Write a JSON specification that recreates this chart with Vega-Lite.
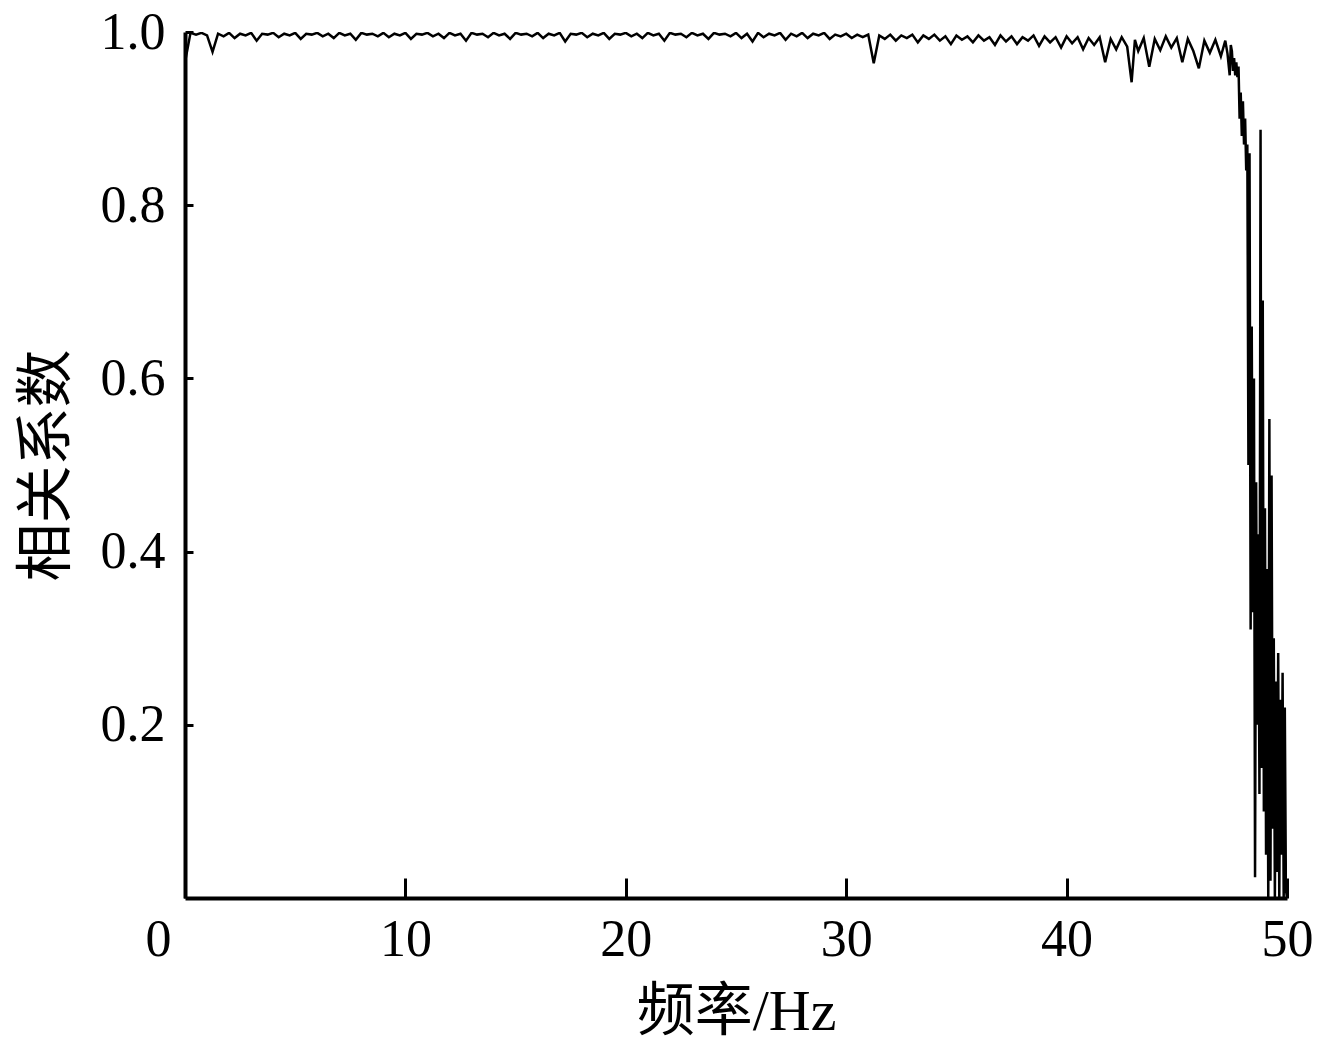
{
  "$schema": "https://vega.github.io/schema/vega-lite/v6.json",
  "width": 1102,
  "height": 866,
  "autosize": "none",
  "padding": {"left": 185, "top": 32, "right": 37, "bottom": 150},
  "background": "white",
  "config": {
    "view": {"stroke": null},
    "font": "Liberation Serif",
    "axis": {
      "domainColor": "black",
      "domainWidth": 4,
      "tickColor": "black",
      "tickWidth": 3,
      "grid": false,
      "labelColor": "black",
      "titleColor": "black",
      "labelFont": "Liberation Serif",
      "labelFontSize": 52,
      "titleFont": "Liberation Serif, Noto Sans CJK SC",
      "titleFontSize": 58,
      "titleFontWeight": "normal"
    }
  },
  "data": {
    "values": [
      {"f": 0, "r": 0.965}, {"f": 0.25, "r": 0.999}, {"f": 0.5, "r": 0.997}, {"f": 0.75, "r": 0.999}, {"f": 1.0, "r": 0.996},
      {"f": 1.25, "r": 0.977}, {"f": 1.5, "r": 0.998}, {"f": 1.75, "r": 0.995}, {"f": 2.0, "r": 0.999}, {"f": 2.25, "r": 0.993},
      {"f": 2.5, "r": 0.998}, {"f": 2.75, "r": 0.996}, {"f": 3.0, "r": 0.999}, {"f": 3.25, "r": 0.99}, {"f": 3.5, "r": 0.998},
      {"f": 3.75, "r": 0.997}, {"f": 4.0, "r": 0.999}, {"f": 4.25, "r": 0.994}, {"f": 4.5, "r": 0.998}, {"f": 4.75, "r": 0.996},
      {"f": 5.0, "r": 0.999}, {"f": 5.25, "r": 0.992}, {"f": 5.5, "r": 0.998}, {"f": 5.75, "r": 0.997}, {"f": 6.0, "r": 0.999},
      {"f": 6.25, "r": 0.995}, {"f": 6.5, "r": 0.998}, {"f": 6.75, "r": 0.993}, {"f": 7.0, "r": 0.999}, {"f": 7.25, "r": 0.996},
      {"f": 7.5, "r": 0.998}, {"f": 7.75, "r": 0.991}, {"f": 8.0, "r": 0.999}, {"f": 8.25, "r": 0.997}, {"f": 8.5, "r": 0.998},
      {"f": 8.75, "r": 0.995}, {"f": 9.0, "r": 0.999}, {"f": 9.25, "r": 0.994}, {"f": 9.5, "r": 0.998}, {"f": 9.75, "r": 0.996},
      {"f": 10.0, "r": 0.999}, {"f": 10.25, "r": 0.992}, {"f": 10.5, "r": 0.998}, {"f": 10.75, "r": 0.997}, {"f": 11.0, "r": 0.999},
      {"f": 11.25, "r": 0.995}, {"f": 11.5, "r": 0.998}, {"f": 11.75, "r": 0.993}, {"f": 12.0, "r": 0.999}, {"f": 12.25, "r": 0.996},
      {"f": 12.5, "r": 0.998}, {"f": 12.75, "r": 0.99}, {"f": 13.0, "r": 0.999}, {"f": 13.25, "r": 0.997}, {"f": 13.5, "r": 0.998},
      {"f": 13.75, "r": 0.994}, {"f": 14.0, "r": 0.999}, {"f": 14.25, "r": 0.996}, {"f": 14.5, "r": 0.998}, {"f": 14.75, "r": 0.992},
      {"f": 15.0, "r": 0.999}, {"f": 15.25, "r": 0.997}, {"f": 15.5, "r": 0.998}, {"f": 15.75, "r": 0.995}, {"f": 16.0, "r": 0.999},
      {"f": 16.25, "r": 0.993}, {"f": 16.5, "r": 0.998}, {"f": 16.75, "r": 0.996}, {"f": 17.0, "r": 0.999}, {"f": 17.25, "r": 0.989},
      {"f": 17.5, "r": 0.998}, {"f": 17.75, "r": 0.997}, {"f": 18.0, "r": 0.999}, {"f": 18.25, "r": 0.994}, {"f": 18.5, "r": 0.998},
      {"f": 18.75, "r": 0.996}, {"f": 19.0, "r": 0.999}, {"f": 19.25, "r": 0.992}, {"f": 19.5, "r": 0.998}, {"f": 19.75, "r": 0.997},
      {"f": 20.0, "r": 0.999}, {"f": 20.25, "r": 0.995}, {"f": 20.5, "r": 0.998}, {"f": 20.75, "r": 0.993}, {"f": 21.0, "r": 0.999},
      {"f": 21.25, "r": 0.996}, {"f": 21.5, "r": 0.998}, {"f": 21.75, "r": 0.99}, {"f": 22.0, "r": 0.999}, {"f": 22.25, "r": 0.997},
      {"f": 22.5, "r": 0.998}, {"f": 22.75, "r": 0.994}, {"f": 23.0, "r": 0.999}, {"f": 23.25, "r": 0.996}, {"f": 23.5, "r": 0.998},
      {"f": 23.75, "r": 0.992}, {"f": 24.0, "r": 0.999}, {"f": 24.25, "r": 0.997}, {"f": 24.5, "r": 0.998}, {"f": 24.75, "r": 0.995},
      {"f": 25.0, "r": 0.999}, {"f": 25.25, "r": 0.993}, {"f": 25.5, "r": 0.998}, {"f": 25.75, "r": 0.989}, {"f": 26.0, "r": 0.999},
      {"f": 26.25, "r": 0.994}, {"f": 26.5, "r": 0.998}, {"f": 26.75, "r": 0.996}, {"f": 27.0, "r": 0.999}, {"f": 27.25, "r": 0.991},
      {"f": 27.5, "r": 0.998}, {"f": 27.75, "r": 0.995}, {"f": 28.0, "r": 0.999}, {"f": 28.25, "r": 0.993}, {"f": 28.5, "r": 0.998},
      {"f": 28.75, "r": 0.996}, {"f": 29.0, "r": 0.999}, {"f": 29.25, "r": 0.992}, {"f": 29.5, "r": 0.997}, {"f": 29.75, "r": 0.995},
      {"f": 30.0, "r": 0.998}, {"f": 30.25, "r": 0.993}, {"f": 30.5, "r": 0.997}, {"f": 30.75, "r": 0.994}, {"f": 31.0, "r": 0.997},
      {"f": 31.25, "r": 0.964}, {"f": 31.5, "r": 0.996}, {"f": 31.75, "r": 0.992}, {"f": 32.0, "r": 0.997}, {"f": 32.25, "r": 0.99},
      {"f": 32.5, "r": 0.996}, {"f": 32.75, "r": 0.993}, {"f": 33.0, "r": 0.997}, {"f": 33.25, "r": 0.988}, {"f": 33.5, "r": 0.996},
      {"f": 33.75, "r": 0.992}, {"f": 34.0, "r": 0.997}, {"f": 34.25, "r": 0.99}, {"f": 34.5, "r": 0.995}, {"f": 34.75, "r": 0.986},
      {"f": 35.0, "r": 0.996}, {"f": 35.25, "r": 0.991}, {"f": 35.5, "r": 0.995}, {"f": 35.75, "r": 0.988}, {"f": 36.0, "r": 0.996},
      {"f": 36.25, "r": 0.99}, {"f": 36.5, "r": 0.994}, {"f": 36.75, "r": 0.985}, {"f": 37.0, "r": 0.996}, {"f": 37.25, "r": 0.989},
      {"f": 37.5, "r": 0.995}, {"f": 37.75, "r": 0.986}, {"f": 38.0, "r": 0.994}, {"f": 38.25, "r": 0.99}, {"f": 38.5, "r": 0.996},
      {"f": 38.75, "r": 0.984}, {"f": 39.0, "r": 0.995}, {"f": 39.25, "r": 0.988}, {"f": 39.5, "r": 0.994}, {"f": 39.75, "r": 0.982},
      {"f": 40.0, "r": 0.995}, {"f": 40.25, "r": 0.987}, {"f": 40.5, "r": 0.994}, {"f": 40.75, "r": 0.98}, {"f": 41.0, "r": 0.993},
      {"f": 41.25, "r": 0.985}, {"f": 41.5, "r": 0.994}, {"f": 41.75, "r": 0.965}, {"f": 42.0, "r": 0.992}, {"f": 42.25, "r": 0.98},
      {"f": 42.5, "r": 0.994}, {"f": 42.75, "r": 0.983}, {"f": 42.95, "r": 0.942}, {"f": 43.1, "r": 0.991}, {"f": 43.25, "r": 0.978},
      {"f": 43.5, "r": 0.993}, {"f": 43.75, "r": 0.96}, {"f": 44.0, "r": 0.992}, {"f": 44.25, "r": 0.979}, {"f": 44.5, "r": 0.995},
      {"f": 44.75, "r": 0.982}, {"f": 45.0, "r": 0.993}, {"f": 45.25, "r": 0.965}, {"f": 45.5, "r": 0.992}, {"f": 45.75, "r": 0.978},
      {"f": 46.0, "r": 0.958}, {"f": 46.25, "r": 0.99}, {"f": 46.5, "r": 0.976}, {"f": 46.75, "r": 0.991}, {"f": 47.0, "r": 0.972},
      {"f": 47.2, "r": 0.99}, {"f": 47.3, "r": 0.975}, {"f": 47.4, "r": 0.95}, {"f": 47.45, "r": 0.985}, {"f": 47.5, "r": 0.978},
      {"f": 47.55, "r": 0.955}, {"f": 47.6, "r": 0.97}, {"f": 47.65, "r": 0.95}, {"f": 47.7, "r": 0.965}, {"f": 47.75, "r": 0.948},
      {"f": 47.8, "r": 0.96}, {"f": 47.85, "r": 0.9}, {"f": 47.9, "r": 0.93}, {"f": 47.95, "r": 0.88}, {"f": 48.0, "r": 0.92},
      {"f": 48.05, "r": 0.87}, {"f": 48.1, "r": 0.9}, {"f": 48.15, "r": 0.84}, {"f": 48.2, "r": 0.87}, {"f": 48.25, "r": 0.5},
      {"f": 48.3, "r": 0.86}, {"f": 48.35, "r": 0.31}, {"f": 48.4, "r": 0.66}, {"f": 48.45, "r": 0.33}, {"f": 48.5, "r": 0.6},
      {"f": 48.55, "r": 0.024}, {"f": 48.6, "r": 0.48}, {"f": 48.65, "r": 0.2}, {"f": 48.7, "r": 0.42}, {"f": 48.75, "r": 0.12},
      {"f": 48.8, "r": 0.887}, {"f": 48.85, "r": 0.15}, {"f": 48.9, "r": 0.69}, {"f": 48.95, "r": 0.1}, {"f": 49.0, "r": 0.45},
      {"f": 49.05, "r": 0.05}, {"f": 49.1, "r": 0.38}, {"f": 49.15, "r": 0.0}, {"f": 49.2, "r": 0.553}, {"f": 49.25, "r": 0.02},
      {"f": 49.3, "r": 0.488}, {"f": 49.35, "r": 0.08}, {"f": 49.4, "r": 0.3}, {"f": 49.45, "r": 0.0}, {"f": 49.5, "r": 0.25},
      {"f": 49.55, "r": 0.03}, {"f": 49.6, "r": 0.283}, {"f": 49.65, "r": 0.0}, {"f": 49.7, "r": 0.229}, {"f": 49.75, "r": 0.05},
      {"f": 49.8, "r": 0.26}, {"f": 49.85, "r": 0.0}, {"f": 49.9, "r": 0.22}, {"f": 49.95, "r": 0.01}, {"f": 50.0, "r": 0.0}
    ]
  },
  "mark": {"type": "line", "color": "black", "strokeWidth": 2.5, "strokeJoin": "miter", "clip": true},
  "encoding": {
    "x": {
      "field": "f",
      "type": "quantitative",
      "scale": {"domain": [0, 50], "nice": false, "zero": false},
      "axis": {
        "title": "频率/Hz",
        "values": [0, 10, 20, 30, 40, 50],
        "format": "d",
        "tickSize": -20,
        "labelPadding": 36,
        "titlePadding": 18,
        "labelAlign": {"condition": {"test": "datum.value === 0", "value": "right"}, "value": "center"},
        "labelOffset": {"condition": {"test": "datum.value === 0", "value": -14}, "value": 0}
      }
    },
    "y": {
      "field": "r",
      "type": "quantitative",
      "scale": {"domain": [0, 1], "nice": false},
      "axis": {
        "title": "相关系数",
        "values": [0.2, 0.4, 0.6, 0.8, 1.0],
        "format": ".1f",
        "tickSize": -8,
        "labelPadding": 28,
        "titlePadding": 24
      }
    }
  }
}
